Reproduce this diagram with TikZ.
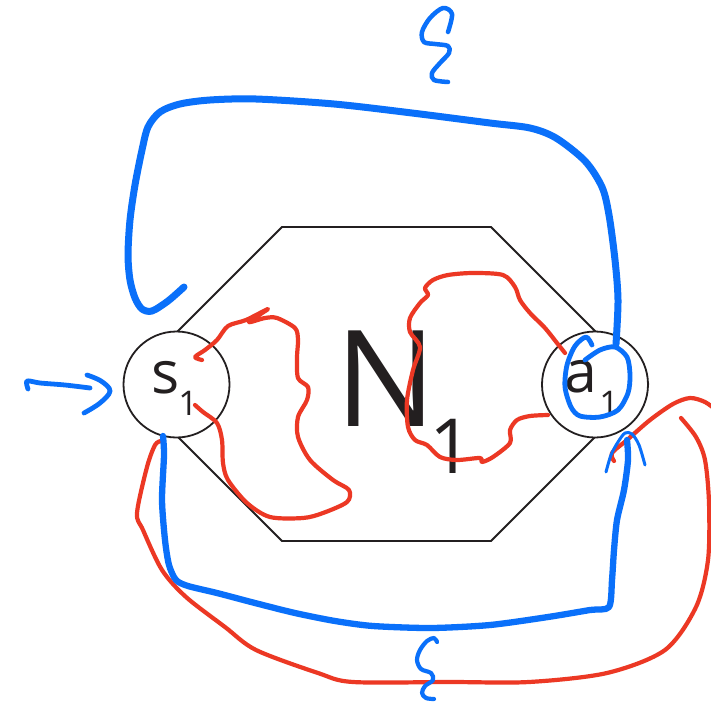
\documentclass[tikz,border=0pt]{standalone}
\usepackage{fontspec}
\setmainfont{Open Sans}
\definecolor{penblue}{RGB}{10,112,250}
\definecolor{penred}{RGB}{236,56,36}
\definecolor{ink}{RGB}{35,31,32}
\begin{document}
\begin{tikzpicture}[x=1pt,y=-1pt,
  outline/.style={draw=ink,line width=1.8pt,line join=miter},
  state/.style={circle,draw=ink,line width=1.8pt,fill=white,minimum size=106pt,inner sep=0pt},
  blueink/.style={draw=penblue,line cap=round,line join=round},
  redink/.style={draw=penred,line width=4.2pt,line cap=round,line join=round},
  lbl/.style={inner sep=0pt,text=ink,anchor=base}]
\useasboundingbox[fill=white] (0,0) rectangle (711,701);

% hexagon of the network
\draw[outline] (282,227) -- (491,227) -- (648,384) -- (491,541) -- (282,541) -- (125,384) -- cycle;

% input and output units
\node[state] (s1) at (176.5,384.5) {};
\node[state] (a1) at (595,384.5) {};

% labels
\node[lbl,font=\fontsize{134}{134}\selectfont] (N) at (386,426) {N};
\node[lbl,font=\fontsize{76}{76}\selectfont] (Nsub) at (451,473) {1};
\node[lbl,font=\fontsize{59}{59}\selectfont] (slbl) at (166,393) {s};
\node[lbl,font=\fontsize{34}{34}\selectfont] (ssub) at (188,415) {1};
\node[lbl,font=\fontsize{59}{59}\selectfont] (albl) at (581,392) {a};
\node[lbl,font=\fontsize{34}{34}\selectfont] (asub) at (609,415) {1};

% red paths through the network
\draw[redink] plot[smooth,tension=0.5] coordinates {(202,360) (195,357) (205,350) (217,340) (228,326) (246,320) (268,309) (249,322) (265,318) (277,318) (295,328) (298,340) (297,357) (298,378) (308,387) (307,400) (298,417) (298,437) (310,460) (333,480) (349,490) (347,502) (323,513) (303,518) (270,517) (247,503) (228,480) (223,463) (222,440) (217,423) (203,412) (195,405)};
\draw[redink] plot[smooth,tension=0.5] coordinates {(548,415) (530,416) (517,420) (510,430) (510,443) (493,457) (482,462) (480,458) (457,460) (440,457) (427,445) (415,440) (408,427) (407,400) (413,370) (420,347) (410,332) (410,318) (420,303) (428,295) (425,288) (433,280) (448,275) (473,273) (503,275) (515,287) (520,300) (530,313) (545,328) (557,343) (565,353)};
\draw[redink] plot[smooth,tension=0.5] coordinates {(161,441) (155,445) (147,467) (137,513) (143,530) (162,570) (186,597) (225,627) (256,650) (318,673) (353,682) (451,682) (529,682) (607,673) (665,650) (696,607) (708,560) (709,503) (705,460) (696,437) (681,418)};
\draw[redink] plot[smooth,tension=0.5] coordinates {(614,461) (612,453) (627,440) (650,420) (673,404) (690,398) (705,402) (716,410)};

% blue feedback loop over the top
\draw[blueink,line width=7pt] plot[smooth,tension=0.5] coordinates {(184,287) (168,301) (152,311) (142,309) (135,298) (130,280) (128,255) (130,220) (135,185) (142,150) (148,127) (160,112) (180,104) (210,100) (256,99) (334,104) (412,113) (490,123) (530,128) (556,138) (585,161) (602,187) (609,215) (615,260) (618,300) (616,344)};
\draw[blueink,line width=4.8pt] plot[smooth,tension=0.5] coordinates {(585,360) (600,350) (615,347) (627,357) (630,375) (628,393) (618,410) (600,417) (580,416) (571,407) (565,387) (567,365) (575,346) (586,337) (592,345)};

% blue feedback loop underneath
\draw[blueink,line width=6.3pt] plot[smooth,tension=0.45] coordinates {(163,436) (164,455) (162,500) (165,540) (169,565) (176,580) (188,586) (217,593) (255,603) (295,613) (335,621) (373,626) (431,628) (490,625) (548,617) (590,610) (609,607) (612,580) (614,550) (617,520) (624,490) (628,460) (627,440)};
\draw[blueink,line width=3pt] plot[smooth,tension=0.5] coordinates {(606,472) (611,455) (618,442) (625,433) (632,434) (639,445) (645,465)};

% incoming arrow
\draw[blueink,line width=4.8pt] plot[smooth,tension=0.5] coordinates {(28,389) (27,381) (40,383) (65,385) (90,388)};
\draw[blueink,line width=4.8pt] plot[smooth,tension=0.6] coordinates {(87,375) (101,381) (110,391) (100,403) (84,413)};

% xi marks
\draw[blueink,line width=4.5pt] plot[smooth,tension=0.55] coordinates {(448,32) (452,14) (443,8) (430,18) (422,32) (424,42) (435,44) (448,46) (449,53) (440,63) (432,73) (434,80) (448,82)};
\draw[blueink,line width=4.2pt] plot[smooth,tension=0.55] coordinates {(437,642) (434,638) (427,641) (420,650) (417,660) (421,669) (431,673) (433,680) (425,686) (422,693) (426,698) (434,699)};
\end{tikzpicture}
\end{document}
